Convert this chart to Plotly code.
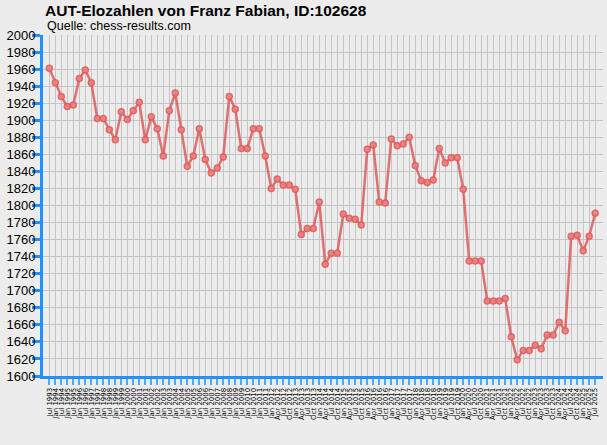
import plotly.graph_objects as go

# rating periods (semiannual until Jan 2012, then quarterly)
periods = [
    "Jul 1993", "Jan 1994", "Jul 1994", "Jan 1995", "Jul 1995", "Jan 1996", "Jul 1996", "Jan 1997",
    "Jul 1997", "Jan 1998", "Jul 1998", "Jan 1999", "Jul 1999", "Jan 2000", "Jul 2000", "Jan 2001",
    "Jul 2001", "Jan 2002", "Jul 2002", "Jan 2003", "Jul 2003", "Jan 2004", "Jul 2004", "Jan 2005",
    "Jul 2005", "Jan 2006", "Jul 2006", "Jan 2007", "Jul 2007", "Jan 2008", "Jul 2008", "Jan 2009",
    "Jul 2009", "Jan 2010", "Jul 2010", "Jan 2011", "Jul 2011", "Jan 2012",
    "Apr 2012", "Jul 2012", "Oct 2012", "Jan 2013", "Apr 2013", "Jul 2013", "Oct 2013", "Jan 2014",
    "Apr 2014", "Jul 2014", "Oct 2014", "Jan 2015", "Apr 2015", "Jul 2015", "Oct 2015", "Jan 2016",
    "Apr 2016", "Jul 2016", "Oct 2016", "Jan 2017", "Apr 2017", "Jul 2017", "Oct 2017", "Jan 2018",
    "Apr 2018", "Jul 2018", "Oct 2018", "Jan 2019", "Apr 2019", "Jul 2019", "Oct 2019", "Jan 2020",
    "Apr 2020", "Jul 2020", "Oct 2020", "Jan 2021", "Apr 2021", "Jul 2021", "Oct 2021", "Jan 2022",
    "Apr 2022", "Jul 2022", "Oct 2022", "Jan 2023", "Apr 2023", "Jul 2023", "Oct 2023", "Jan 2024",
    "Apr 2024", "Jul 2024", "Oct 2024", "Jan 2025", "Apr 2025", "Jul 2025",
]

elo = [
    1961, 1944, 1928, 1916, 1918, 1949, 1959, 1944, 1902, 1902,
    1889, 1877, 1910, 1901, 1911, 1921, 1877, 1904, 1890, 1858,
    1911, 1932, 1889, 1846, 1858, 1890, 1854, 1838, 1844, 1857,
    1928, 1913, 1867, 1867, 1890, 1890, 1858, 1820, 1831, 1824,
    1824, 1819, 1766, 1773, 1773, 1804, 1731, 1744, 1744, 1790,
    1785, 1784, 1777, 1866, 1871, 1804, 1803, 1878, 1870, 1872,
    1880, 1847, 1829, 1827, 1830, 1867, 1850, 1856, 1856, 1819,
    1735, 1735, 1735, 1688, 1688, 1688, 1691, 1646, 1619, 1630,
    1630, 1636, 1632, 1648, 1648, 1663, 1653, 1764, 1765, 1747,
    1764, 1791,
]

y_ticks = list(range(1600, 2001, 20))

blue = "#1e90ff"
red = "rgba(222,90,90,0.85)"

fig = go.Figure()
fig.add_trace(go.Scatter(
    x=periods, y=elo, mode="lines+markers",
    line=dict(color=red, width=2.5),
    marker=dict(size=6, color="rgba(235,130,130,0.9)", line=dict(color=red, width=1.5)),
    hoverinfo="x+y",
))

fig.update_layout(
    width=607, height=445,
    paper_bgcolor="#ececec", plot_bgcolor="#ececec",
    margin=dict(l=43, r=4, t=35, b=69),
    showlegend=False,
    title=dict(text="<b>AUT-Elozahlen von Franz Fabian, ID:102628</b>",
               x=45 / 607, xanchor="left", y=1 - 11 / 445, yanchor="middle",
               font=dict(family="Liberation Sans, Arial", size=15.5, color="black")),
    annotations=[dict(text="Quelle: chess-results.com", xref="paper", yref="paper",
                      x=2 / 560, y=1 + 9 / 341, xanchor="left", yanchor="middle",
                      showarrow=False,
                      font=dict(family="Liberation Sans, Arial", size=12.5, color="black"))],
)

fig.update_xaxes(
    type="category", range=[-1.05, 92.3], automargin=False,
    tickmode="array", tickvals=periods, ticktext=periods,
    showgrid=True, gridcolor="#c4c4c4", gridwidth=1,
    showline=True, linecolor=blue, linewidth=3,
    ticks="outside", ticklen=6, tickwidth=2, tickcolor="rgba(30,144,255,0.75)",
    tickangle=-90, tickfont=dict(family="DejaVu Sans", size=7, color="black"),
    zeroline=False,
)
fig.update_yaxes(
    range=[1600, 2000], tickvals=y_ticks, automargin=False,
    showgrid=True, gridcolor="#c4c4c4", gridwidth=1,
    showline=True, linecolor=blue, linewidth=3,
    ticks="outside", ticklen=8, tickwidth=3, tickcolor=blue,
    ticklabelstandoff=-6,
    tickfont=dict(family="Liberation Sans, Arial", size=13, color="black"),
    zeroline=False,
)

# drop the browser's default page margin so the chart sits at 0,0
fig.write_html("out.html", config={"displayModeBar": False},
               post_script="document.body.style.margin='0';document.body.style.background='#ececec';")
